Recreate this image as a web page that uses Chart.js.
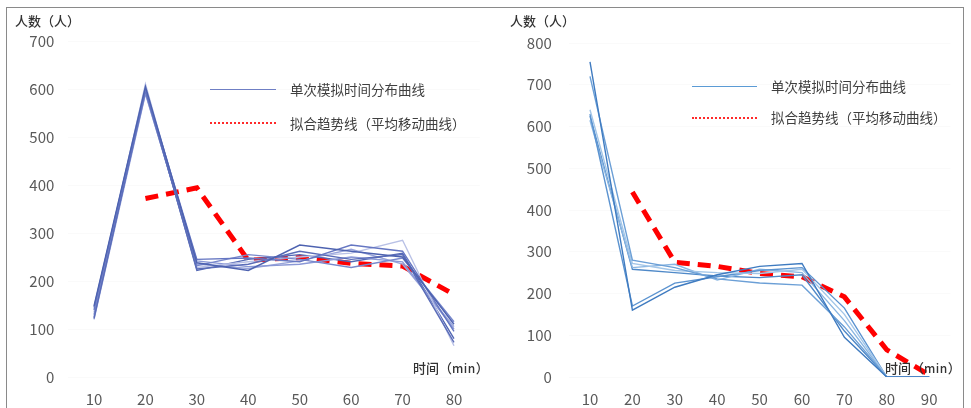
<!DOCTYPE html>
<html>
<head>
<meta charset="utf-8">
<script src="https://cdn.jsdelivr.net/npm/chart.js@4/dist/chart.umd.min.js"></script>
<style>
  html, body { margin: 0; padding: 0; background: #fff; }
  #wrap { position: relative; width: 971px; height: 408px; overflow: hidden; background: #fff;
          font-family: "Noto Sans CJK SC", "Noto Sans", sans-serif; }
  #frame { position: absolute; left: 6px; top: 7px; width: 958px; height: 430px;
           border: 1.5px solid #8a8a8a; box-sizing: border-box; }
  canvas { position: absolute; top: 0; }
  .t { position: absolute; white-space: nowrap; color: #333; line-height: 1; }
  .ytitle { font-size: 13px; font-weight: 500; }
  .xtitle { font-size: 13px; font-weight: 500; }
  .xtitle span { font-size: 12px; letter-spacing: 0.5px; }
  .leg { font-size: 13.5px; color: #3f3f3f; }
  .sw { position: absolute; height: 0; }
</style>
</head>
<body>
<div id="wrap">
  <div id="frame"></div>
  <canvas id="c1" width="490" height="408" style="left:0;width:490px;height:408px"></canvas>
  <canvas id="c2" width="481" height="408" style="left:490px;width:481px;height:408px"></canvas>

  <div class="t ytitle" style="left:15px;top:14px">人数（人）</div>
  <div class="t xtitle" style="left:413px;top:361px">时间（<span>min</span>）</div>
  <div class="sw" style="left:210px;top:89px;width:66px;border-top:1.5px solid #6f7fc4"></div>
  <div class="t leg" style="left:290px;top:83px">单次模拟时间分布曲线</div>
  <div class="sw" style="left:210px;top:122px;width:66px;border-top:2px dotted #ff2a2a"></div>
  <div class="t leg" style="left:290px;top:117px">拟合趋势线（平均移动曲线）</div>

  <div class="t ytitle" style="left:510px;top:14px">人数（人）</div>
  <div class="t xtitle" style="left:885px;top:361px">时间（<span>min</span>）</div>
  <div class="sw" style="left:692px;top:86px;width:65px;border-top:1.5px solid #5b9bd5"></div>
  <div class="t leg" style="left:771px;top:80px">单次模拟时间分布曲线</div>
  <div class="sw" style="left:692px;top:117px;width:65px;border-top:2px dotted #ff2a2a"></div>
  <div class="t leg" style="left:771px;top:111px">拟合趋势线（平均移动曲线）</div>
</div>
<script>
// ---- Left chart: 8 simulated runs, 10–80 min ----
const timesA = ['10', '20', '30', '40', '50', '60', '70', '80'];
const runA1 = [148, 605, 238, 222, 275, 262, 250, 110];
const runA2 = [140, 600, 245, 248, 240, 275, 262, 95];
const runA3 = [122, 598, 225, 235, 262, 245, 255, 72];
const runA4 = [130, 592, 232, 255, 245, 228, 248, 115];
const runA5 = [135, 610, 228, 240, 250, 258, 285, 65];
const runA6 = [125, 595, 242, 230, 235, 250, 240, 100];
const runA7 = [145, 602, 222, 245, 255, 240, 258, 80];
const runA8 = [120, 590, 235, 226, 242, 266, 235, 105];
const trendA = [null, 372, 394, 243, 249, 237, 231, 172];
const yTicksA = [0, 100, 200, 300, 400, 500, 600, 700];

// ---- Right chart: 6 simulated runs, 10–90 min ----
const timesB = ['10', '20', '30', '40', '50', '60', '70', '80', '90'];
const runB1 = [755, 160, 215, 245, 265, 272, 95, 0, 0];
const runB2 = [720, 280, 262, 235, 225, 220, 120, 0, 0];
const runB3 = [640, 272, 255, 250, 248, 258, 150, 0, 0];
const runB4 = [630, 170, 225, 240, 255, 262, 165, 0, 0];
const runB5 = [615, 262, 270, 232, 258, 250, 135, 0, 0];
const runB6 = [625, 258, 250, 242, 238, 245, 110, 0, 0];
const trendB = [null, 443, 275, 265, 248, 240, 192, 65, 5];
const yTicksB = [0, 100, 200, 300, 400, 500, 600, 700, 800];

const runsA = [runA1, runA2, runA3, runA4, runA5, runA6, runA7, runA8];
const colorsA = ['#4d62b0', '#6576c2', '#5a6cb8', '#7888cc', '#b9c1e6', '#8a98d6', '#5468b4', '#98a4da'];
const runsB = [runB1, runB2, runB3, runB4, runB5, runB6];
const colorsB = ['#3f7bc0', '#6b9fd6', '#a3c6e8', '#5b93d0', '#8ab6e2', '#4f89c8'];

function runSets(runs, colors) {
  return runs.map((d, i) => ({
    data: d, borderColor: colors[i], borderWidth: 1.4,
    pointRadius: 0, tension: 0, fill: false
  }));
}
function trendSet(d) {
  return { data: d, borderColor: '#ff0000', borderWidth: 5, borderDash: [13, 8],
           borderCapStyle: 'butt', pointRadius: 0, tension: 0, fill: false, spanGaps: false };
}

function makeChart(id, labels, datasets, yMax, yTicks, geo) {
  const tickFont = { family: '"Noto Sans CJK SC", "Noto Sans", sans-serif', size: 15 };
  return new Chart(document.getElementById(id), {
    type: 'line',
    data: { labels, datasets },
    options: {
      responsive: false, animation: false, devicePixelRatio: 1,
      layout: { padding: { left: 0, top: geo.top, right: geo.right, bottom: 0 } },
      plugins: { legend: { display: false }, tooltip: { enabled: false } },
      scales: {
        x: {
          offset: true,
          grid: { display: false, drawTicks: false },
          border: { display: false },
          ticks: { color: '#595959', font: tickFont, padding: 13, maxRotation: 0, autoSkip: false },
          afterFit: s => { s.height = 31; }
        },
        y: {
          min: 0, max: yMax,
          grid: { color: '#fafafa', drawTicks: false },
          border: { display: false },
          afterBuildTicks: s => { s.ticks = yTicks.map(v => ({ value: v })); },
          ticks: { color: '#595959', font: tickFont, padding: geo.ypad },
          afterFit: s => { s.width = geo.left; }
        }
      }
    }
  });
}

makeChart('c1', timesA, runSets(runsA, colorsA).concat([trendSet(trendA)]), 700, yTicksA,
  { top: 41, right: 10.3, left: 68.3, ypad: 14 });
makeChart('c2', timesB, runSets(runsB, colorsB).concat([trendSet(trendB)]), 800, yTicksB,
  { top: 43, right: 20.6, left: 78.8, ypad: 17 });
</script>
</body>
</html>
